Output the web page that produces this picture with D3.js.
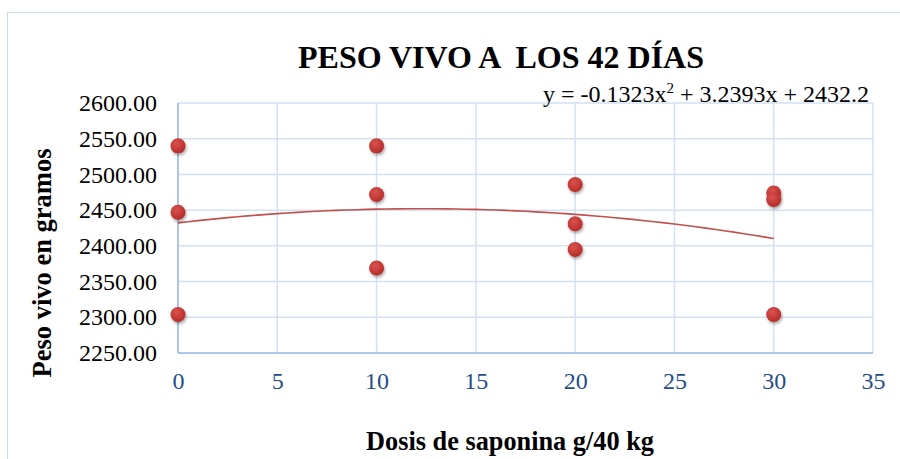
<!DOCTYPE html>
<html><head><meta charset="utf-8">
<script src="https://cdn.jsdelivr.net/npm/d3@7"></script>
<style>body{margin:0;background:#fff}svg{display:block}</style>
</head><body>
<script>
const doses = [0,0,0,10,10,10,20,20,20,30,30,30];
const weights = [2540,2447,2304,2540,2472,2369,2486,2431,2395,2474,2465,2304];
const xTicks = [0,5,10,15,20,25,30,35];
const yTicks = [2250,2300,2350,2400,2450,2500,2550,2600];
const coef = {a:-0.1323, b:3.2393, c:2432.2};
const trendX = d3.range(0, 30.01, 0.5);

const FONT="Liberation Serif, 'Times New Roman', serif";
const W=900,H=459;
const svg=d3.select("body").append("svg").attr("width",W).attr("height",H);
const defs=svg.append("defs");
const f=defs.append("filter").attr("id","sh").attr("x","-50%").attr("y","-50%").attr("width","200%").attr("height","200%");
f.append("feDropShadow").attr("dx",1).attr("dy",2).attr("stdDeviation",1.5).attr("flood-color","#000").attr("flood-opacity",0.35);
const g=defs.append("radialGradient").attr("id","dg").attr("cx","40%").attr("cy","35%").attr("r","65%");
g.append("stop").attr("offset","0%").attr("stop-color","#d9524d");
g.append("stop").attr("offset","100%").attr("stop-color","#b72c2a");

// chart border
svg.append("rect").attr("x",7.5).attr("y",12.5).attr("width",900).attr("height",460).attr("fill","none").attr("stroke","#c6d9f0").attr("stroke-width",1);

const x=d3.scaleLinear().domain([0,35]).range([178,873]);
const y=d3.scaleLinear().domain([2250,2600]).range([353,103]);

// grid
svg.append("g").selectAll("line").data(yTicks).join("line")
 .attr("x1",x(0)).attr("x2",x(35)).attr("y1",d=>y(d)).attr("y2",d=>y(d))
 .attr("stroke","#d3e1f2").attr("stroke-width",1.5);
svg.append("g").selectAll("line").data(xTicks).join("line")
 .attr("y1",y(2250)).attr("y2",y(2600)).attr("x1",d=>x(d)).attr("x2",d=>x(d))
 .attr("stroke","#d3e1f2").attr("stroke-width",1.5);
// axes lines
svg.append("line").attr("x1",x(0)).attr("x2",x(0)).attr("y1",y(2250)).attr("y2",y(2600)).attr("stroke","#9bbbe5").attr("stroke-width",1.5);
svg.append("line").attr("x1",x(0)).attr("x2",x(35)).attr("y1",y(2250)).attr("y2",y(2250)).attr("stroke","#9bbbe5").attr("stroke-width",1.5);

// tick labels via axes
const ya=svg.append("g").attr("transform",`translate(${x(0)},0)`).call(d3.axisLeft(y).tickValues(yTicks).tickFormat(d3.format(".2f")).tickSize(0).tickPadding(21));
ya.select(".domain").remove();
ya.attr("font-family",FONT).attr("font-size",24);
ya.selectAll("text").attr("fill","#000");
const xa=svg.append("g").attr("transform",`translate(0,${y(2250)})`).call(d3.axisBottom(x).tickValues(xTicks).tickFormat(d3.format("d")).tickSize(0).tickPadding(19));
xa.select(".domain").remove();
xa.attr("font-family",FONT).attr("font-size",24);
xa.selectAll("text").attr("fill","#1f4e87");

// trendline
svg.append("path").datum(trendX).attr("fill","none").attr("stroke","#c0504d").attr("stroke-width",1.6)
 .attr("d",d3.line().x(d=>x(d)).y(d=>y(coef.a*d*d+coef.b*d+coef.c)));

// points
svg.append("g").selectAll("circle").data(doses.map((d,i)=>[d,weights[i]])).join("circle")
 .attr("cx",d=>x(d[0])).attr("cy",d=>y(d[1])).attr("r",7.5).attr("fill","url(#dg)").attr("filter","url(#sh)");

// title
svg.append("text").attr("x",501).attr("y",68).attr("text-anchor","middle")
 .attr("font-family",FONT).attr("font-weight","bold").attr("font-size",32)
 .style("white-space","pre").text("PESO VIVO A  LOS 42 DÍAS");
// equation
const eq=svg.append("text").attr("x",869).attr("y",102).attr("text-anchor","end")
 .attr("font-family",FONT).attr("font-size",24).attr("fill","#000");
eq.append("tspan").text("y = -0.1323x");
eq.append("tspan").attr("dy",-9).attr("font-size",15).text("2");
eq.append("tspan").attr("dy",9).text(" + 3.2393x + 2432.2");
// axis titles
svg.append("text").attr("transform","translate(51,263) rotate(-90)").attr("text-anchor","middle")
 .attr("font-family",FONT).attr("font-weight","bold").attr("font-size",26.5).text("Peso vivo en gramos");
svg.append("text").attr("x",510).attr("y",450).attr("text-anchor","middle")
 .attr("font-family",FONT).attr("font-weight","bold").attr("font-size",26.3).text("Dosis de saponina g/40 kg");
</script>
</body></html>
